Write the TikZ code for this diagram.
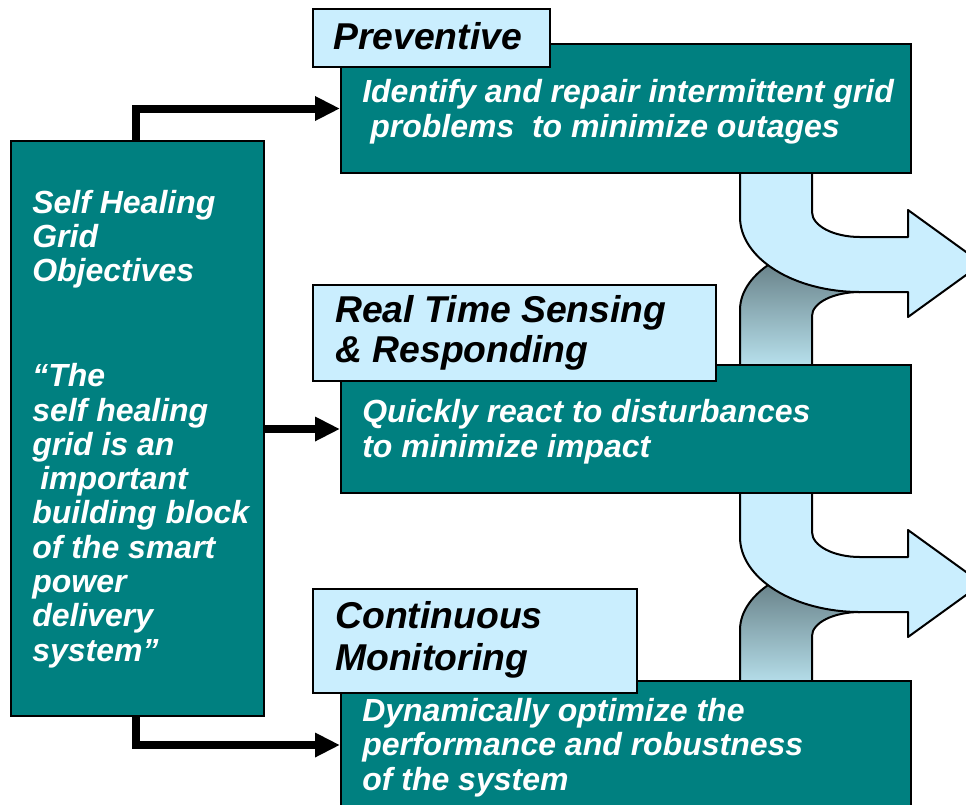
\documentclass[tikz,border=0pt]{standalone}
\usepackage{fontspec}
\setmainfont{Liberation Sans}
\usetikzlibrary{arrows.meta}
\definecolor{tealbox}{RGB}{0,128,128}
\definecolor{skyfill}{RGB}{202,238,254}
\definecolor{shadetop}{RGB}{88,110,116}
\definecolor{shadebot}{RGB}{188,230,242}
\begin{document}
\begin{tikzpicture}[x=0.75pt,y=-0.75pt,
  tealrect/.style={draw=black,fill=tealbox,line width=1.5pt,inner sep=0pt,anchor=north west},
  titlerect/.style={draw=black,fill=skyfill,line width=1.5pt,inner sep=0pt,anchor=north west},
  bodytext/.style={text=white,font=\bfseries\itshape\fontsize{24pt}{25.7pt}\selectfont,align=left,inner sep=0pt,anchor=base west},
  titletext/.style={text=black,font=\bfseries\itshape\fontsize{28pt}{30pt}\selectfont,align=left,inner sep=0pt,anchor=base west},
  conn/.style={draw=black,line width=6pt,miter limit=10,-{Triangle[length=18.75pt,width=17.25pt]}},
  frontarrow/.style={draw=black,fill=skyfill,line width=1.5pt,line join=round},
  reararrow/.style={draw=black,top color=shadetop,bottom color=shadebot,line width=1.5pt,line join=round}]
\useasboundingbox (0,0) rectangle (966,804);
\clip (0,0) rectangle (966,804);
% curved arrows (behind the boxes)
\foreach \dy in {0,320}{
  \begin{scope}[shift={(0,\dy)}]
    \path[reararrow] (740,372) -- (740,310) .. controls (740,271.4) and (793.8,240) .. (860,240)
      -- (860,292) .. controls (833.5,292) and (812,302.8) .. (812,316) -- (812,372) -- cycle;
    \path[frontarrow] (740,165) -- (740,217) .. controls (740,258.4) and (793.8,292) .. (860,292)
      -- (908,292) -- (908,317) -- (982,263.5) -- (908,210) -- (908,237) -- (860,237)
      .. controls (833.5,237) and (812,225.8) .. (812,212) -- (812,165) -- cycle;
  \end{scope}
}
% boxes
\node[tealrect,minimum width=189.75pt,minimum height=431.25pt] (L) at (10,140) {};
\node[tealrect,minimum width=427.5pt,minimum height=96.75pt] (A) at (340,43) {};
\node[tealrect,minimum width=427.5pt,minimum height=96pt] (B) at (340,364) {};
\node[tealrect,minimum width=427.5pt,minimum height=96pt] (C) at (340,680) {};
\node[titlerect,minimum width=177.75pt,minimum height=43.5pt] (TA) at (312,8) {};
\node[titlerect,minimum width=302.25pt,minimum height=72pt] (TB) at (312,284) {};
\node[titlerect,minimum width=243pt,minimum height=78pt] (TC) at (312,588) {};
% connectors
\draw[conn] ([xshift=94.5pt]L.north west) |- (A.west);
\draw[conn] (L.east |- B.west) -- (B.west);
\draw[conn] ([xshift=94.5pt]L.south west) |- (C.west);
% texts (base anchor = baseline of the last line)
\node[bodytext] (Ltext) at (32,661) {Self Healing\\Grid\\Objectives\\[53pt]“The\\self healing\\grid is an\\\hspace*{6pt}important\\building block\\of the smart\\power\\delivery\\system”};
\node[bodytext] (Atext) at (362,137) {Identify and repair intermittent grid\\\hspace*{6pt}problems\ \ to minimize outages};
\node[bodytext] (Btext) at (362,457) {Quickly react to disturbances\\to minimize impact};
\node[bodytext] (Ctext) at (362,790) {Dynamically optimize the\\performance and robustness\\of the system};
\node[titletext] (TAtext) at (333,49) {Preventive};
\node[titletext] (TBtext) at (335,362) {Real Time Sensing\\\& Responding};
\node[titletext,font=\bfseries\itshape\fontsize{28pt}{31.5pt}\selectfont] (TCtext) at (335,670) {Continuous\\Monitoring};
\end{tikzpicture}
\end{document}
